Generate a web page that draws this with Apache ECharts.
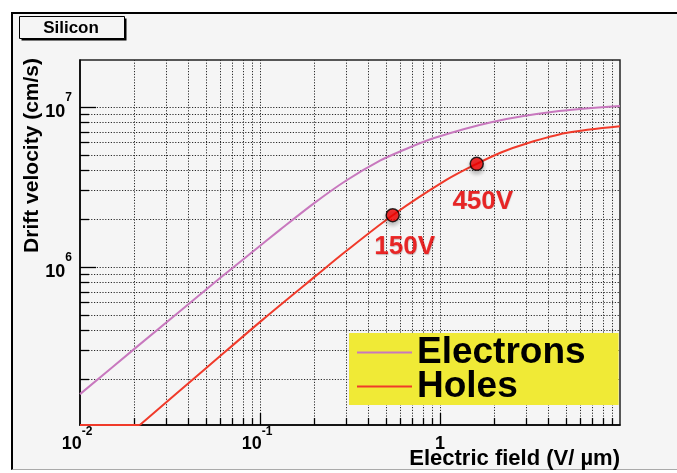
<!DOCTYPE html>
<html><head><meta charset="utf-8">
<script src="https://cdn.jsdelivr.net/npm/echarts@6/dist/echarts.min.js"></script>
<style>
html,body{margin:0;padding:0;background:#fff;}
#wrap{position:relative;width:677px;height:473px;overflow:hidden;background:#fff;}
#bg{position:absolute;left:11px;top:12px;width:700px;height:455px;background:#f5f5f5;border-top:2px solid #000;border-left:2px solid #000;border-bottom:1px solid #aaa;}
#c{position:absolute;left:0;top:0;width:677px;height:473px;}
</style>
</head><body><div id="wrap"><div id="bg"></div><div id="c"></div></div>
<script>
// axis ranges
const X_MIN = 0.01, X_MAX = 10;
const Y_MIN = 1.026e5, Y_MAX = 1.96e7;

// Electrons drift velocity (cm/s) vs field (V/um)
const electronsE = [0.01, 0.0202, 0.06, 0.0918, 0.129, 0.2, 0.3, 0.464, 0.6, 0.918, 1.98, 4.27, 10];
const electronsV = [1.6e5, 3.09e5, 8.5e5, 1.25e6, 1.70e6, 2.5e6, 3.45e6, 4.6e6, 5.25e6, 6.35e6, 8.06e6, 9.3e6, 1.01e7];

// Holes (first two points lie on the lower frame edge, below the axis range)
const holesE = [0.01, 0.0215, 0.0501, 0.104, 0.2066, 0.3, 0.546, 1.09, 1.6, 2.2, 3.03, 5, 10];
const holesV = [Y_MIN, Y_MIN, 2.32e5, 4.69e5, 8.87e5, 1.25e6, 2.1e6, 3.5e6, 4.4e6, 5.2e6, 5.9e6, 6.85e6, 7.55e6];

// bias-voltage markers
const markerNames = ['150V', '450V'];
const markerE = [0.546, 1.6];
const markerV = [2.1e6, 4.4e6];

// grid / tick values
const xMajorTicks = [0.1, 1];
const xMinorTicks = [0.02,0.03,0.04,0.05,0.06,0.07,0.08,0.09,0.2,0.3,0.4,0.5,0.6,0.7,0.8,0.9,2,3,4,5,6,7,8,9];
const yMajorTicks = [1e6, 1e7];
const yMinorTicks = [2e5,3e5,4e5,5e5,6e5,7e5,8e5,9e5,2e6,3e6,4e6,5e6,6e6,7e6,8e6,9e6];

const FONT = '"Liberation Sans", Arial, Helvetica, sans-serif';
const C_ELEC = '#c878be';
const C_HOLE = '#f03a2a';

const zip = (a, b) => a.map((v, i) => [v, b[i]]);

function powLabel(v, isX) {
  const l = Math.log10(v);
  const e = Math.round(l);
  if (Math.abs(l - e) > 1e-6) return '';
  if (isX && e === 1) return '';
  if (e === 0) return '{b|1}';
  return isX ? '{b|10}{sx|' + e + '}' : '{by|10}{s|' + e + '}';
}
const richLab = {
  b: {fontSize: 18, fontWeight: 'bold', fontFamily: FONT, color: '#000', lineHeight: 18},
  by: {fontSize: 18, fontWeight: 'bold', fontFamily: FONT, color: '#000', lineHeight: 18, padding: [10, 0, 0, 0]},
  s: {fontSize: 12, fontWeight: 'bold', fontFamily: FONT, color: '#000', lineHeight: 12, padding: [3, 0, 21, 0]},
  sx: {fontSize: 12, fontWeight: 'bold', fontFamily: FONT, color: '#000', lineHeight: 12, padding: [0, 6, 24, 0]}
};

const dotStyle = {stroke: '#2a2a2a', lineWidth: 1, lineDash: [1.2, 1.6]};
const tickStyle = {stroke: '#000', lineWidth: 1.3};

function xGridItem(params, api) {
  const v = api.value(0);
  const major = api.value(2) === 1;
  const p0 = api.coord([v, Y_MIN]);
  const p1 = api.coord([v, Y_MAX]);
  const x = Math.round(p0[0]) + 0.5;
  const len = major ? 12 : 7;
  return {type: 'group', children: [
    {type: 'line', shape: {x1: x, y1: p0[1], x2: x, y2: p1[1]}, style: dotStyle},
    {type: 'line', shape: {x1: x, y1: p0[1], x2: x, y2: p0[1] - len}, style: tickStyle}
  ]};
}
function yGridItem(params, api) {
  const v = api.value(1);
  const major = api.value(2) === 1;
  const p0 = api.coord([X_MIN, v]);
  const p1 = api.coord([X_MAX, v]);
  const y = Math.round(p0[1]) + 0.5;
  const len = major ? 16 : 9;
  return {type: 'group', children: [
    {type: 'line', shape: {x1: p0[0], y1: y, x2: p1[0], y2: y}, style: dotStyle},
    {type: 'line', shape: {x1: p0[0], y1: y, x2: p0[0] + len, y2: y}, style: tickStyle}
  ]};
}

const xGridData = xMajorTicks.map(v => [v, Y_MIN, 1]).concat(xMinorTicks.map(v => [v, Y_MIN, 0]));
const yGridData = yMajorTicks.map(v => [X_MIN, v, 1]).concat(yMinorTicks.map(v => [X_MIN, v, 0]));

const elecData = zip(electronsE, electronsV);
const holeData = zip(holesE, holesV);
const labelOffsets = [[12, 32], [6, 38]];
const markerData = markerNames.map((n, i) => ({
  name: n, value: [markerE[i], markerV[i]],
  label: {offset: labelOffsets[i]}
}));

const chart = echarts.init(document.getElementById('c'), null, {renderer: 'canvas'});
chart.setOption({
  backgroundColor: 'transparent',
  animation: false,
  grid: {left: 80, right: 57, top: 60, bottom: 48, show: true, borderColor: '#222', borderWidth: 1.5, backgroundColor: 'transparent', outerBoundsMode: 'none', containLabel: false},
  xAxis: {
    type: 'log', logBase: 10, min: X_MIN, max: X_MAX,
    axisLine: {show: true, lineStyle: {color: '#000', width: 1.5}},
    axisTick: {show: false}, splitLine: {show: false}, minorTick: {show: false},
    axisLabel: {margin: 10, formatter: v => powLabel(v, true), rich: richLab, hideOverlap: false, showMinLabel: true, showMaxLabel: true}
  },
  yAxis: {
    type: 'log', logBase: 10, min: Y_MIN, max: Y_MAX,
    axisLine: {show: true, lineStyle: {color: '#000', width: 1.5}},
    axisTick: {show: false}, splitLine: {show: false}, minorTick: {show: false},
    axisLabel: {margin: 8, formatter: v => powLabel(v, false), rich: richLab, hideOverlap: false, showMinLabel: true, showMaxLabel: true}
  },
  legend: {
    orient: 'vertical', left: 349, top: 333,
    backgroundColor: '#f0ea36', borderWidth: 0,
    padding: [1, 33, 0, 8], itemGap: -3,
    itemWidth: 55, itemHeight: 2, icon: 'rect',
    selectedMode: false,
    data: ['Electrons', 'Holes'],
    textStyle: {fontSize: 37, fontWeight: 'bold', fontFamily: FONT, color: '#000', lineHeight: 34}
  },
  graphic: [
    {type: 'rect', z: 100, shape: {x: 21.5, y: 18.5, width: 105, height: 22}, style: {fill: '#000'}},
    {type: 'rect', z: 101, shape: {x: 19.5, y: 16.5, width: 105, height: 22}, style: {fill: '#f5f5f5', stroke: '#000', lineWidth: 1}},
    {type: 'text', z: 102, x: 71, y: 28, style: {text: 'Silicon', font: 'bold 17px ' + FONT, fill: '#000', textAlign: 'center', textVerticalAlign: 'middle'}},
    {type: 'text', z: 102, x: 32, y: 58, rotation: Math.PI / 2, style: {text: 'Drift velocity (cm/s)', font: 'bold 21px ' + FONT, fill: '#000', textAlign: 'right', textVerticalAlign: 'middle'}},
    {type: 'text', z: 102, x: 620, y: 459, style: {text: 'Electric field (V/ \u00b5m)', font: 'bold 22px ' + FONT, fill: '#000', textAlign: 'right', textVerticalAlign: 'middle'}}
  ],
  series: [
    {type: 'custom', name: 'xgrid', silent: true, z: 1, renderItem: xGridItem, data: xGridData, encode: {x: 0, y: 1}, clip: false, tooltip: {show: false}},
    {type: 'custom', name: 'ygrid', silent: true, z: 1, renderItem: yGridItem, data: yGridData, encode: {x: 0, y: 1}, clip: false, tooltip: {show: false}},
    {type: 'line', name: 'Electrons', data: elecData, symbol: 'none', showSymbol: false, smooth: 0.3, clip: true, z: 3,
     lineStyle: {color: C_ELEC, width: 2}, itemStyle: {color: C_ELEC}},
    {type: 'line', name: 'Holes', data: holeData.slice(0, 2), symbol: 'none', showSymbol: false, smooth: false, clip: false, z: 3,
     lineStyle: {color: C_HOLE, width: 2}, itemStyle: {color: C_HOLE}},
    {type: 'line', name: 'Holes', data: holeData.slice(1), symbol: 'none', showSymbol: false, smooth: 0.3, clip: true, z: 3,
     lineStyle: {color: C_HOLE, width: 2}, itemStyle: {color: C_HOLE}},
    {type: 'scatter', name: 'markers', data: markerData, symbol: 'circle', symbolSize: 13, z: 5,
     itemStyle: {color: '#ff0000', borderColor: '#000', borderWidth: 1.5, shadowBlur: 4, shadowColor: 'rgba(0,0,0,0.3)', shadowOffsetY: 3},
     label: {show: true, position: 'inside', formatter: '{b}', fontSize: 26, fontWeight: 'bold', fontFamily: FONT, color: '#ee0000',
             textShadowColor: 'rgba(80,0,0,0.35)', textShadowBlur: 1, textShadowOffsetX: 0.5, textShadowOffsetY: 0.5}}
  ]
});
</script>
</body></html>
